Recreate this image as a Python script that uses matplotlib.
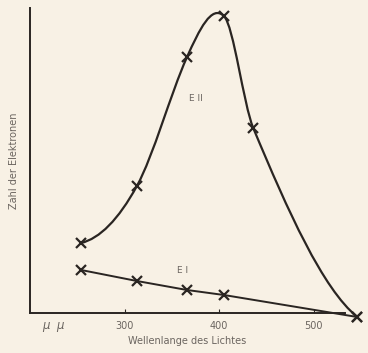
import numpy as np
import matplotlib.pyplot as plt
from matplotlib.path import Path
from matplotlib.patches import PathPatch

# Hg lines (m-mu) and electron counts (arbitrary units)
wl_e2 = [254, 313, 366, 405, 436, 546]
n_e2 = [70, 127, 256, 297, 185, -4]
wl_e1 = [254, 313, 366, 405, 546]
n_e1 = [43, 32, 23, 18, -4]
xticks = [300, 400, 500]

ink = "#2a2522"
grey = "#6b6560"
bg = "#f8f1e5"


def smooth_path(ax, xs, ys):
    # Akima curve through the points, worked out in pixel space and
    # handed back as bezier segments in data space
    p = ax.transData.transform(np.column_stack([xs, ys]))
    x, y = p[:, 0], p[:, 1]
    h = np.diff(x)
    s = np.diff(y) / h
    s = np.concatenate([[3 * s[0] - 2 * s[1], 2 * s[0] - s[1]], s,
                        [2 * s[-1] - s[-2], 3 * s[-1] - 2 * s[-2]]])
    w = np.abs(np.diff(s))
    t = np.zeros(len(x))
    for i in range(len(x)):
        a, b = w[i + 2], w[i]
        if a + b == 0:
            t[i] = (s[i + 1] + s[i + 2]) / 2
        else:
            t[i] = (a * s[i + 1] + b * s[i + 2]) / (a + b)
    verts = [p[0]]
    codes = [Path.MOVETO]
    for i in range(len(x) - 1):
        c1 = [x[i] + h[i] / 3, y[i] + t[i] * h[i] / 3]
        c2 = [x[i + 1] - h[i] / 3, y[i + 1] - t[i + 1] * h[i] / 3]
        verts += [c1, c2, p[i + 1]]
        codes += [Path.CURVE4] * 3
    verts = ax.transData.inverted().transform(np.array(verts))
    return Path(verts, codes)


fig = plt.figure(figsize=(3.68, 3.53), dpi=100, facecolor=bg)
ax = fig.add_axes([30 / 368, 40 / 353, 315 / 368, 305 / 353])
ax.set_facecolor(bg)
ax.set_xlim(200, 533)
ax.set_ylim(0, 305)

ax.add_patch(PathPatch(smooth_path(ax, wl_e2, n_e2), fill=False, ec=ink, lw=1.6, clip_on=False))
ax.plot(wl_e1, n_e1, color=ink, lw=1.4, clip_on=False)
ax.plot(wl_e2, n_e2, ls="none", marker="x", ms=7, mew=1.6, color=ink, clip_on=False)
ax.plot(wl_e1, n_e1, ls="none", marker="x", ms=7, mew=1.6, color=ink, clip_on=False)

ax.text(368, 212, "E II", fontsize=6.5, color=grey)
ax.text(355, 40, "E I", fontsize=6.5, color=grey)

for s in ["top", "right"]:
    ax.spines[s].set_visible(False)
for s in ["left", "bottom"]:
    ax.spines[s].set_color(ink)
    ax.spines[s].set_linewidth(1.4)
ax.set_xticks(xticks)
ax.set_xticklabels([str(t) for t in xticks])
ax.set_yticks([])
ax.tick_params(axis="x", direction="in", length=3, width=0.8, color=ink,
               labelsize=7, labelcolor=grey, pad=6)
ax.text(225, -13, "\u03bc  \u03bc", fontsize=8.5, color=grey, style="italic",
        ha="center", va="center")
ax.set_xlabel("Wellenlange des Lichtes", fontsize=7, color=grey, labelpad=3)
ax.set_ylabel("Zahl der Elektronen", fontsize=7, color=grey, labelpad=8)

fig.savefig("out.png", dpi=100, facecolor=bg)
